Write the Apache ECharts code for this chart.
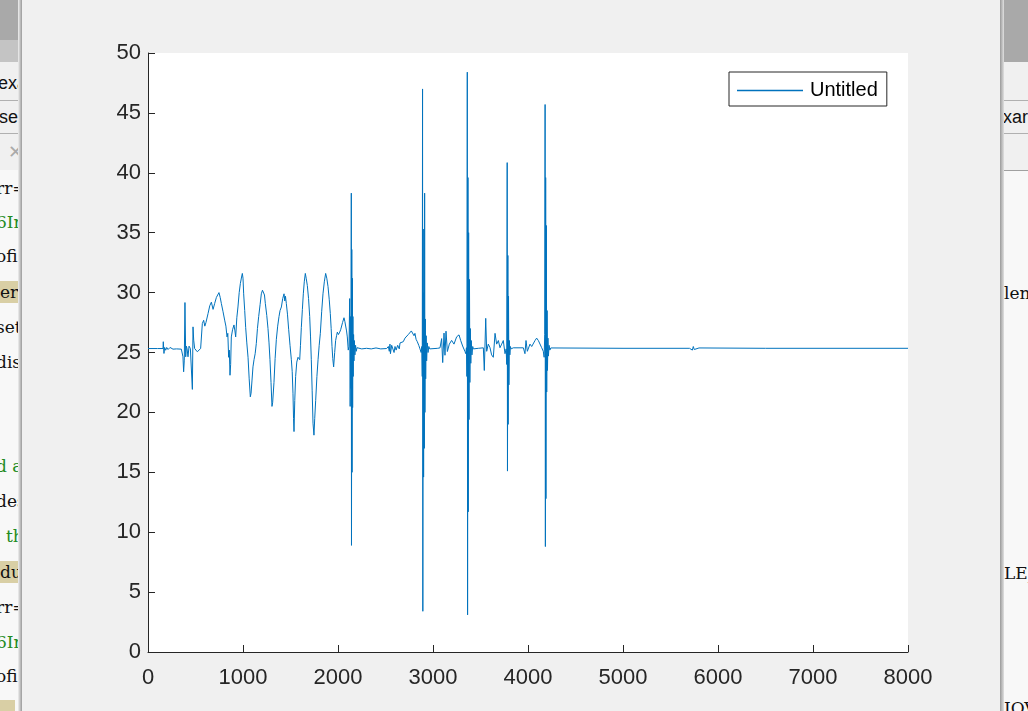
<!DOCTYPE html>
<html>
<head>
<meta charset="utf-8">
<script src="https://cdn.jsdelivr.net/npm/echarts@6/dist/echarts.min.js"></script>
<style>
  html,body{margin:0;padding:0;}
  body{width:1028px;height:711px;overflow:hidden;position:relative;background:#f7f7f7;font-family:'Liberation Sans',Arial,sans-serif;}
  .strip{position:absolute;top:0;height:711px;overflow:hidden;background:#f8f8f8;}
  .code{position:absolute;white-space:nowrap;font-family:'DejaVu Serif','Liberation Serif',serif;font-size:17px;line-height:22px;color:#111;}
  .tab{position:absolute;white-space:nowrap;font-family:'Liberation Sans',Arial,sans-serif;font-size:18px;line-height:22px;color:#111;}
  .green{color:#228b22;}
  .hl{background:#d9cfa5;}
  #fig{position:absolute;left:22px;top:0;width:978px;height:711px;background:#f0f0f0;}
  #shadowL{position:absolute;left:18px;top:0;width:4px;height:711px;background:linear-gradient(to right,#f0f0f0,#9a9a9a);}
  #shadowR{position:absolute;left:1000px;top:0;width:4px;height:711px;background:linear-gradient(to right,#9a9a9a,#e0e0e0);}
</style>
</head>
<body>
<div class="strip" style="left:0;width:22px;">
  <div style="position:absolute;left:0;top:0;width:22px;height:40px;background:#a9a9a9;"></div>
  <div style="position:absolute;left:0;top:40px;width:22px;height:22px;background:#c4c4c4;"></div>
  <div style="position:absolute;left:0;top:62px;width:22px;height:72px;background:#f0f0f0;"></div>
  <div style="position:absolute;left:0;top:100px;width:22px;height:1px;background:#b0b0b0;"></div>
  <div style="position:absolute;left:0;top:133px;width:22px;height:1px;background:#b0b0b0;"></div>
  <div style="position:absolute;left:0;top:134px;width:22px;height:36px;background:#f0f0f0;"></div>
  <div class="tab" style="left:-2px;top:72px;">exa</div>
  <div class="tab" style="left:-1px;top:106px;">se</div>
  <div class="tab" style="left:8px;top:141px;color:#aaa;">✕</div>
  <div class="code" style="left:-4px;top:177px;">rr=</div>
  <div class="code green" style="left:-4px;top:211px;">6Ir</div>
  <div class="code" style="left:-4px;top:245px;">ofi</div>
  <div class="code hl" style="left:0px;top:281px;padding-right:10px;">er</div>
  <div class="code" style="left:-4px;top:316px;">set</div>
  <div class="code" style="left:-4px;top:351px;">dis</div>
  <div class="code green" style="left:-4px;top:455px;">d a</div>
  <div class="code" style="left:-4px;top:490px;">des</div>
  <div class="code green" style="left:6px;top:525px;">th</div>
  <div class="code hl" style="left:0px;top:561px;padding-right:10px;">du</div>
  <div class="code" style="left:-4px;top:596px;">rr=</div>
  <div class="code green" style="left:-4px;top:631px;">6Ir</div>
  <div class="code" style="left:-4px;top:665px;">ofi</div>
  <div class="code hl" style="left:0px;top:700px;padding-right:10px;">&nbsp;</div>
</div>
<div class="strip" style="left:1000px;width:28px;">
  <div style="position:absolute;left:0;top:0;width:28px;height:62px;background:#a9a9a9;"></div>
  <div style="position:absolute;left:0;top:62px;width:28px;height:72px;background:#f0f0f0;"></div>
  <div style="position:absolute;left:0;top:100px;width:28px;height:1px;background:#b0b0b0;"></div>
  <div style="position:absolute;left:0;top:133px;width:28px;height:1px;background:#b0b0b0;"></div>
  <div style="position:absolute;left:0;top:134px;width:28px;height:36px;background:#f0f0f0;"></div>
  <div style="position:absolute;left:0;top:170px;width:28px;height:1px;background:#a0a0a0;"></div>
  <div class="tab" style="left:3px;top:106px;">xar</div>
  <div class="code" style="left:4px;top:282px;">len</div>
  <div class="code" style="left:4px;top:562px;">LE_</div>
  <div class="code" style="left:4px;top:697px;">IOV</div>
</div>
<div id="shadowL"></div>
<div id="fig"></div>
<div id="shadowR"></div>
<script>
// Sample index (x) and signal value (y)
const sampleX = [
  0,100,158,161,168,175,186,197,211,221,232,246,263,300,351,361,368,375,382,389,397,404,411,421,432,446,456,467,474,481,491,502,519,537,554,
  572,586,598,610,632,650,667,685,702,720,735,747,760,772,790,807,820,832,840,849,856,863,870,877,890,905,915,923,935,947,960,972,985,993,
  1000,1007,1018,1028,1040,1053,1065,1077,1085,1095,1105,1116,1128,1140,1152,1165,1180,1193,1205,1218,1226,1235,1250,1263,1274,1284,1295,
  1305,1312,1326,1338,1351,1365,1379,1390,1404,1418,1432,1440,1447,1456,1468,1481,1495,1509,1518,1526,1532,1537,1545,1554,1566,1579,1588,
  1597,1605,1614,1625,1635,1645,1656,1665,1677,1690,1702,1711,1719,1728,1737,1747,1755,1765,1778,1790,1802,1814,1828,1842,1856,1870,1882,
  1895,1908,1919,1928,1937,1945,1954,1965,1975,1985,1993,2005,2018,2028,2035,2048,2063,2072,2081,2090,2098,2108,2116,2123,2128,2133,2136,
  2140,2142,2145,2148,2151,2154,2157,2160,2164,2168,2172,2178,2185,2192,2200,2250,2300,2350,2400,2450,2512,2530,2540,2547,2552,2565,2582,
  2590,2600,2612,2628,2645,2653,2668,2687,2705,2723,2740,2758,2772,2786,2800,2810,2822,2835,2850,2863,2875,2882,2887,2890,2893,2897,2901,
  2905,2909,2912,2915,2919,2923,2928,2933,2940,2948,2956,2965,3050,3074,3091,3102,3116,3126,3137,3151,3172,3196,3221,3249,3274,3291,3312,
  3337,3345,3352,3357,3361,3364,3368,3371,3375,3379,3384,3388,3393,3398,3403,3410,3418,3425,3477,3530,3540,3555,3565,3582,3600,3617,3635,
  3653,3670,3688,3705,3723,3740,3758,3770,3776,3781,3784,3788,3791,3795,3799,3804,3809,3815,3822,3845,3951,3968,3979,3993,4021,4039,4056,
  4074,4091,4109,4126,4144,4161,4170,4176,4180,4183,4186,4189,4193,4197,4201,4205,4210,4215,4222,4230,4240,4260,5000,5700,5720,5730,5740,
  5750,5760,5800,5810,6500,8000
];
const signalY = [
  25.33,25.33,25.33,25.9,24.92,25.42,25.19,25.42,25.25,25.14,25.42,25.28,25.28,25.3,25.28,25.19,24.64,23.39,24.36,29.17,24.64,25.53,25.33,24.64,25.53,25.33,25.19,21.92,27.14,26.03,25.33,25.25,25.06,25.19,25.33,
  27.42,27.69,27.2,27.5,28.25,28.9,29.2,28.6,29.1,29.6,29.5,30.0,29.6,29.1,28.4,27.7,27.2,26.3,26.6,24.6,25.2,23.1,24.0,26.3,26.9,27.3,26.8,26.3,27.9,28.8,30.0,30.75,31.3,31.6,
  31.2,29.9,28.5,27.1,25.8,24.6,22.8,21.3,21.6,22.7,23.8,24.4,24.9,25.75,27.0,28.0,29.0,29.9,30.2,30.3,29.8,29.1,28.1,27.0,25.8,24.4,22.5,
  20.5,20.8,22.5,24.5,26.1,27.2,28.0,28.5,28.8,29.5,29.9,29.3,29.7,29.1,28.2,26.9,25.6,24.4,23.4,21.6,19.5,18.4,21.0,23.0,24.2,24.6,24.7,
  24.4,25.6,27.1,28.6,29.9,30.9,31.6,31.2,30.6,29.5,28.0,26.3,24.4,21.8,19.1,18.1,19.5,21.0,23.0,24.4,25.6,26.6,28.4,29.9,30.9,31.6,31.2,
  30.5,29.4,28.25,27.0,25.5,24.5,23.8,25.0,26.0,26.4,26.7,26.5,26.7,26.9,27.0,27.5,27.9,27.6,27.7,26.8,26.3,25.2,25.5,29.5,20.5,28.0,22.0,
  38.3,8.9,33.6,15.0,31.2,20.4,28.0,23.0,26.5,24.3,26.0,24.8,25.6,25.1,25.4,25.3,25.35,25.3,25.38,25.3,25.33,25.5,25.1,25.7,24.9,25.6,25.7,
  25.0,25.5,25.2,25.6,25.3,25.8,25.9,25.9,26.2,26.3,26.5,26.6,26.8,26.8,26.4,26.6,26.1,25.9,25.6,25.3,25.0,25.5,23.0,47.0,3.4,35.3,14.6,
  30.0,17.0,38.3,20.0,27.8,22.8,26.4,24.3,25.8,25.0,25.5,25.3,25.35,25.39,26.16,24.16,26.62,24.77,26.78,25.08,25.7,26.01,25.7,26.31,26.47,26.01,25.54,
  25.08,24.9,25.4,23.0,48.4,3.1,39.6,11.7,35.0,19.4,31.1,22.5,27.0,24.1,26.0,24.8,25.5,25.3,25.35,25.39,23.5,27.85,25.1,25.7,25.4,24.8,24.6,
  26.6,25.7,26.0,25.4,25.7,26.0,24.9,25.3,24.0,40.85,15.1,33.1,19.0,29.7,22.3,26.0,24.8,25.5,25.3,25.39,25.39,24.9,26.0,25.1,25.7,25.5,25.4,
  26.0,26.2,26.0,25.85,25.4,25.1,24.6,26.5,45.7,8.8,39.6,12.8,35.6,21.7,28.5,23.5,26.2,24.7,25.6,25.2,25.38,25.35,25.35,25.35,25.5,25.2,25.5,
  25.25,25.35,25.38,25.32,25.35,25.35
];
const xTicks = [0,1000,2000,3000,4000,5000,6000,7000,8000];
const yTicks = [0,5,10,15,20,25,30,35,40,45,50];
const seriesName = 'Untitled';

const points = sampleX.map((x, i) => [x, signalY[i]]);
const chart = echarts.init(document.getElementById('fig'), null, {renderer: 'canvas'});
const axisColor = '#262626';
const font = "'Liberation Sans', Arial, sans-serif";
chart.setOption({
  animation: false,
  backgroundColor: '#f0f0f0',
  grid: {left: 126, top: 53, width: 760, height: 599, show: true, backgroundColor: '#ffffff', borderWidth: 0, containLabel: false},
  legend: {
    data: [seriesName],
    left: 707, top: 72,
    orient: 'horizontal',
    backgroundColor: '#ffffff',
    borderColor: axisColor, borderWidth: 1,
    padding: [8, 9, 5, 8],
    itemWidth: 66, itemHeight: 1.5,
    icon: 'rect',
    selectedMode: false,
    textStyle: {fontSize: 20, color: '#000', fontFamily: font, padding: [0, 0, 0, 2], lineHeight: 21}
  },
  xAxis: {
    type: 'value', min: xTicks[0], max: xTicks[xTicks.length - 1], interval: 1000,
    axisLine: {show: true, lineStyle: {color: axisColor, width: 1}},
    axisTick: {show: true, inside: true, length: 7, lineStyle: {color: axisColor}},
    axisLabel: {fontSize: 22, color: axisColor, fontFamily: font, margin: 15, formatter: (v) => String(v)},
    splitLine: {show: false}
  },
  yAxis: {
    type: 'value', min: yTicks[0], max: yTicks[yTicks.length - 1], interval: 5,
    axisLine: {show: true, lineStyle: {color: axisColor, width: 1}},
    axisTick: {show: true, inside: true, length: 7, lineStyle: {color: axisColor}},
    axisLabel: {fontSize: 22, color: axisColor, fontFamily: font, margin: 7, formatter: (v) => String(v)},
    splitLine: {show: false}
  },
  series: [{
    name: seriesName,
    type: 'line',
    data: points,
    showSymbol: false,
    symbol: 'none',
    smooth: false,
    lineStyle: {color: '#0072BD', width: 1},
    itemStyle: {color: '#0072BD'}
  }]
});
</script>
</body>
</html>
